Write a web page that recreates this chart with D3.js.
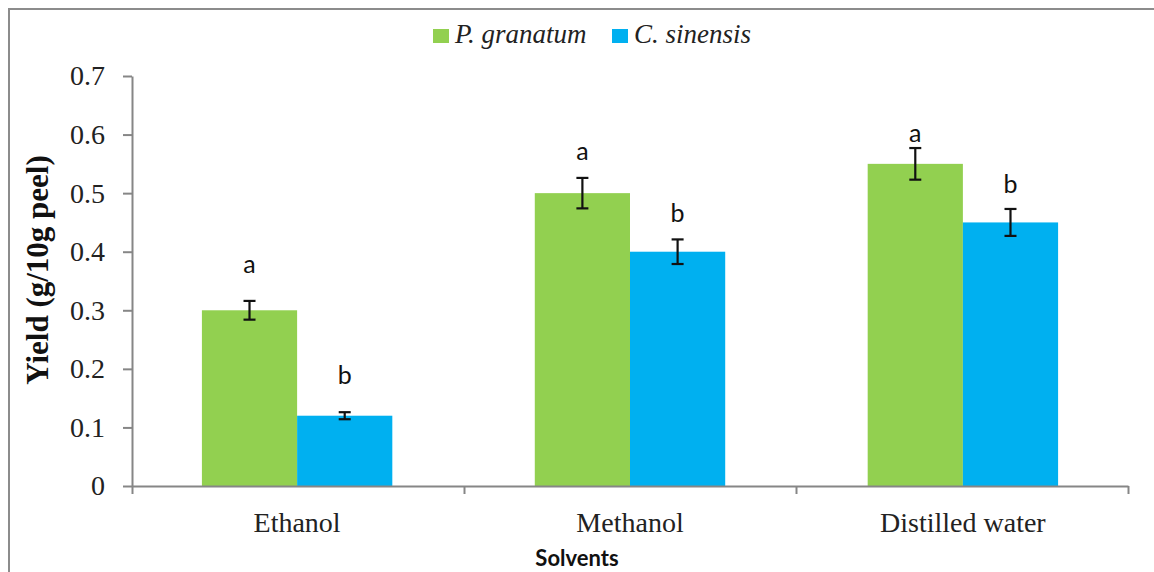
<!DOCTYPE html>
<html>
<head>
<meta charset="utf-8">
<script src="https://cdn.jsdelivr.net/npm/d3@7"></script>
<style>
    html, body { margin: 0; padding: 0; background: #fff; }
    svg { display: block; }
</style>
</head>
<body>
<div class="yield-chart"></div>
<script>
var solvents = ["Ethanol", "Methanol", "Distilled water"];
var seriesNames = ["P. granatum", "C. sinensis"];
var granatum = [0.30, 0.50, 0.55];
var sinensis = [0.12, 0.40, 0.45];
var granatumErr = [0.016, 0.026, 0.027];
var sinensisErr = [0.006, 0.021, 0.023];
var granatumLetters = ["a", "a", "a"];
var sinensisLetters = ["b", "b", "b"];
var granatumLetterAt = [0.364, 0.557, 0.587];
var sinensisLetterAt = [0.174, 0.451, 0.500];
var yTicks = [0, 0.1, 0.2, 0.3, 0.4, 0.5, 0.6, 0.7];

var colors = { "P. granatum": "#92d050", "C. sinensis": "#00b0f0" };
var axisGray = "#868686";

var width = 1154, height = 572;
var plotLeft = 132, plotRight = 1128, plotTop = 76, plotBottom = 486;

var svg = d3.select(".yield-chart").append("svg")
    .attr("width", width)
    .attr("height", height);

//outer frame (only top and left edges are in view)
svg.append("path")
    .attr("d", "M9," + height + "V9H" + width)
    .attr("fill", "none")
    .attr("stroke", "#8c8c8c")
    .attr("stroke-width", 2);

var y = d3.scaleLinear().domain([0, 0.7]).range([plotBottom, plotTop]);

var x0 = d3.scaleBand()
    .domain(solvents)
    .range([plotLeft, plotRight])
    .paddingInner(0.428)
    .paddingOuter(0.21);

var x1 = d3.scaleBand()
    .domain(seriesNames)
    .range([0, x0.bandwidth()]);

//category boundaries for the x axis ticks
var xEdge = d3.scaleLinear().domain([0, solvents.length]).range([plotLeft, plotRight]);

// rows: one per bar
var rows = [];
solvents.forEach(function(s, i) {
    rows.push({ solvent: s, series: seriesNames[0], value: granatum[i], err: granatumErr[i],
        letter: granatumLetters[i], letterAt: granatumLetterAt[i] });
    rows.push({ solvent: s, series: seriesNames[1], value: sinensis[i], err: sinensisErr[i],
        letter: sinensisLetters[i], letterAt: sinensisLetterAt[i] });
});

//bars
svg.append("g").selectAll("rect")
    .data(rows)
    .enter()
    .append("rect")
    .attr("x", function(d) { return x0(d.solvent) + x1(d.series); })
    .attr("y", function(d) { return y(d.value); })
    .attr("width", x1.bandwidth())
    .attr("height", function(d) { return y(0) - y(d.value); })
    .attr("fill", function(d) { return colors[d.series]; });

//axes
var yAxis = svg.append("g")
    .attr("transform", "translate(" + plotLeft + ",0)")
    .call(d3.axisLeft(y).tickValues(yTicks).tickFormat(d3.format("~g"))
        .tickSizeInner(9).tickSizeOuter(0).tickPadding(18));

var xAxis = svg.append("g")
    .attr("transform", "translate(0," + plotBottom + ")")
    .call(d3.axisBottom(xEdge).ticks(solvents.length).tickFormat("")
        .tickSizeInner(8).tickSizeOuter(0));

[yAxis, xAxis].forEach(function(g) {
    g.selectAll("path, line").attr("stroke", axisGray).attr("stroke-width", 2);
});

yAxis.selectAll("text")
    .attr("fill", "#222")
    .style("font-family", "'Liberation Serif', serif")
    .style("font-size", "28px");

//category labels
svg.append("g").selectAll("text")
    .data(solvents)
    .enter()
    .append("text")
    .attr("x", function(d) { return x0(d) + x0.bandwidth() / 2; })
    .attr("y", 532)
    .attr("text-anchor", "middle")
    .attr("fill", "#222")
    .style("font-family", "'Liberation Serif', serif")
    .style("font-size", "28px")
    .text(function(d) { return d; });

//error bars
var errs = svg.append("g")
    .attr("stroke", "#111")
    .attr("stroke-width", 2.2)
    .selectAll("g")
    .data(rows)
    .enter()
    .append("g")
    .attr("transform", function(d) {
        return "translate(" + (x0(d.solvent) + x1(d.series) + x1.bandwidth() / 2) + ",0)";
    });

errs.append("line")
    .attr("y1", function(d) { return y(d.value + d.err); })
    .attr("y2", function(d) { return y(d.value - d.err); });

errs.append("line")
    .attr("x1", -6).attr("x2", 6)
    .attr("y1", function(d) { return y(d.value + d.err); })
    .attr("y2", function(d) { return y(d.value + d.err); });

errs.append("line")
    .attr("x1", -6).attr("x2", 6)
    .attr("y1", function(d) { return y(d.value - d.err); })
    .attr("y2", function(d) { return y(d.value - d.err); });

//significance letters
svg.append("g").selectAll("text")
    .data(rows)
    .enter()
    .append("text")
    .attr("x", function(d) { return x0(d.solvent) + x1(d.series) + x1.bandwidth() / 2; })
    .attr("y", function(d) { return y(d.letterAt); })
    .attr("text-anchor", "middle")
    .attr("fill", "#111")
    .style("font-family", "Lato, sans-serif")
    .style("font-size", "25px")
    .text(function(d) { return d.letter; });

//axis titles
svg.append("text")
    .attr("transform", "translate(48,270) rotate(-90)")
    .attr("text-anchor", "middle")
    .attr("fill", "#111")
    .style("font-family", "'Liberation Serif', serif")
    .style("font-weight", "bold")
    .style("font-size", "31px")
    .text("Yield (g/10g peel)");

svg.append("text")
    .attr("x", 577)
    .attr("y", 566)
    .attr("text-anchor", "middle")
    .attr("fill", "#111")
    .style("font-family", "Lato, sans-serif")
    .style("font-weight", "bold")
    .style("font-size", "22px")
    .text("Solvents");

//legend
var legendX = [433, 612];
var legend = svg.append("g").selectAll("g")
    .data(seriesNames)
    .enter()
    .append("g")
    .attr("transform", function(d, i) { return "translate(" + legendX[i] + ",0)"; });

legend.append("rect")
    .attr("y", 29)
    .attr("width", 16)
    .attr("height", 14)
    .attr("fill", function(d) { return colors[d]; });

legend.append("text")
    .attr("x", 22)
    .attr("y", 43)
    .attr("fill", "#222")
    .style("font-family", "'Liberation Serif', serif")
    .style("font-style", "italic")
    .style("font-size", "27px")
    .text(function(d) { return d; });
</script>
</body>
</html>
